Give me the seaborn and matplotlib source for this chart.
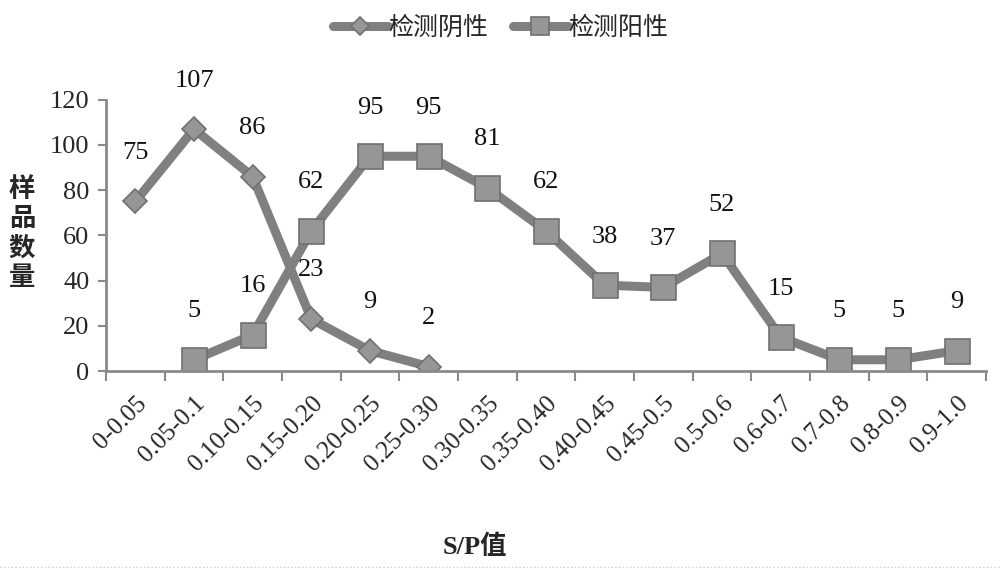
import numpy as np
import matplotlib
matplotlib.use("Agg")
import matplotlib.pyplot as plt
import seaborn as sns

# ── data ─────────────────────────────────────
sp_bins = ["0-0.05", "0.05-0.1", "0.10-0.15", "0.15-0.20", "0.20-0.25",
           "0.25-0.30", "0.30-0.35", "0.35-0.40", "0.40-0.45", "0.45-0.5",
           "0.5-0.6", "0.6-0.7", "0.7-0.8", "0.8-0.9", "0.9-1.0"]
neg_bins = sp_bins[0:6]
neg_counts = [75, 107, 86, 23, 9, 2]
pos_bins = sp_bins[1:]
pos_counts = [5, 16, 62, 95, 95, 81, 62, 38, 37, 52, 15, 5, 5, 9]
neg_name = "检测阴性"
pos_name = "检测阳性"

# ── style ────────────────────────────────────
sns.set_style("white")
plt.rcParams["font.family"] = ["Liberation Serif", "Noto Sans CJK SC"]
LINE = "#808080"
FILL = "#969696"
EDGE = "#707070"

fig = plt.figure(figsize=(10, 5.7), dpi=100)
ax = fig.add_axes([0.106, 0.349, 0.880, 0.476])

neg_x = [sp_bins.index(b) for b in neg_bins]
pos_x = [sp_bins.index(b) for b in pos_bins]

sns.lineplot(x=neg_x, y=neg_counts, ax=ax, color=LINE, linewidth=6.5,
             marker="D", markersize=12, markerfacecolor=FILL,
             markeredgecolor=EDGE, markeredgewidth=1.2, label=neg_name)
sns.lineplot(x=pos_x, y=pos_counts, ax=ax, color=LINE, linewidth=6.5,
             marker="s", markersize=18, markerfacecolor=FILL,
             markeredgecolor=EDGE, markeredgewidth=1.2, label=pos_name)

# data labels
for xs, ys in [(neg_x, neg_counts), (pos_x, pos_counts)]:
    for x, y in zip(xs, ys):
        ax.annotate(str(y), (x, y), xytext=(0, 35), textcoords="offset points",
                    ha="center", va="center", fontsize=19, color="#111111")

# axes
ax.set_xlim(-0.5, len(sp_bins) - 0.5)
ax.set_ylim(0, 120)
ax.set_yticks(range(0, 121, 20))
ax.tick_params(axis="y", labelsize=19, direction="out", length=6,
               width=1.5, color="#8a8a8a", left=True, pad=6)
ax.set_xticks(range(len(sp_bins)))
ax.set_xticklabels(sp_bins, rotation=45, ha="right", rotation_mode="anchor",
                   fontsize=18)
ax.tick_params(axis="x", which="major", length=0, pad=15)
ax.set_xticks(np.arange(-0.5, len(sp_bins), 1), minor=True)
ax.tick_params(axis="x", which="minor", direction="out", length=7,
               width=1.5, color="#8a8a8a", bottom=True)
for side in ["top", "right"]:
    ax.spines[side].set_visible(False)
for side in ["left", "bottom"]:
    ax.spines[side].set_color("#8a8a8a")
    ax.spines[side].set_linewidth(2)
ax.set_xlabel("")
ax.set_ylabel("")

fig.text(0.022, 0.59, "样\n品\n数\n量", fontsize=19, fontweight="bold",
         ha="center", va="center", linespacing=1.3)
fig.text(0.475, 0.04, "S/P值", fontsize=19, fontweight="bold",
         ha="center", va="center")

leg = ax.legend(loc="center", bbox_to_anchor=(0.448, 1.265), ncol=2,
                frameon=False, fontsize=18, handlelength=2.2,
                handletextpad=0.0, columnspacing=1.0, markerscale=0.75)

# faint dotted line at the bottom
fig.add_artist(plt.Line2D([0, 1], [0.006, 0.006], color="#cccccc",
                          linestyle=":", linewidth=1))

fig.savefig("out.png", dpi=100)
